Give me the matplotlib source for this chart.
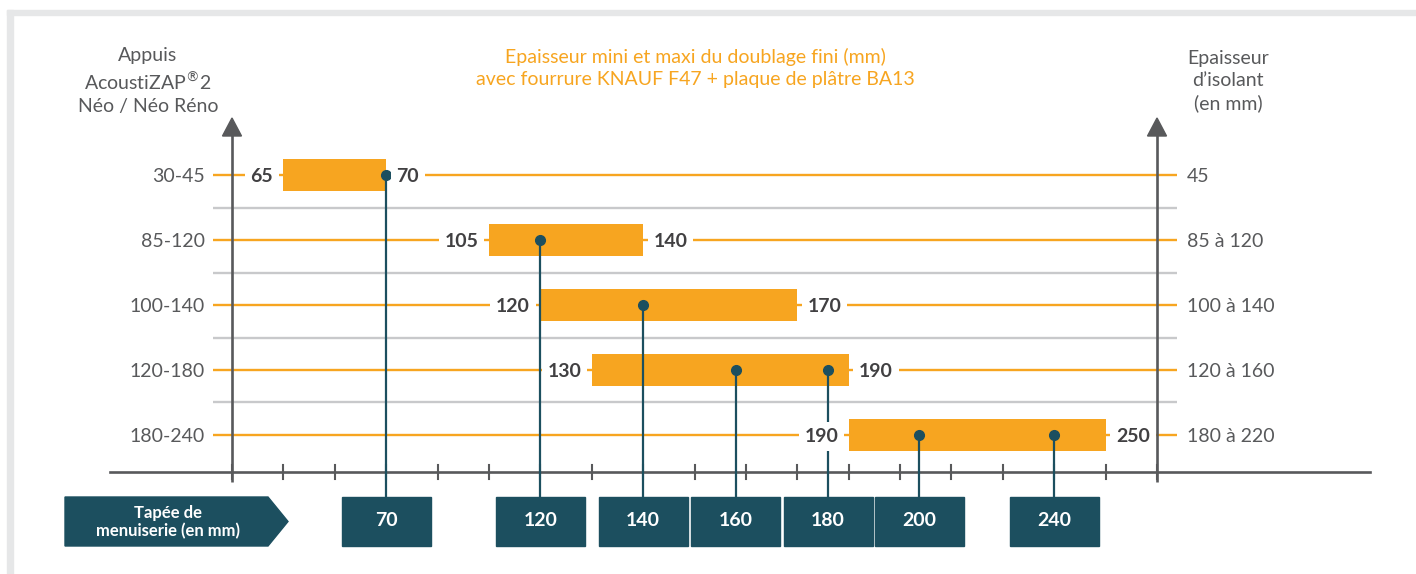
import numpy as np
import matplotlib
matplotlib.use("Agg")
import matplotlib.pyplot as plt
from matplotlib.patches import Rectangle, Polygon
from matplotlib.transforms import Affine2D, blended_transform_factory

plt.rcParams['font.family'] = ['Lato', 'DejaVu Sans']

# données du schéma
appuis = ["30-45", "85-120", "100-140", "120-180", "180-240"]
isolant = ["45", "85 à 120", "100 à 140", "120 à 160", "180 à 220"]
doublage_mini = [65, 105, 120, 130, 190]
doublage_maxi = [70, 140, 170, 190, 250]
tapee = [70, 120, 140, 160, 180, 200, 240]
tapee_rang = [0, 1, 2, 3, 3, 4, 4]   # rangée d'où part chaque tige

# l'axe horizontal du schéma n'est pas linéaire : mm -> graduation
ancre_mm = [-100, 50, 65, 70, 105, 120, 130, 140, 160, 170, 180, 190, 200, 240, 250, 270, 420]
ancre_grad = [-15, 0, 1, 3, 5, 6, 7, 8, 9.8, 11, 11.6, 12, 13.37, 16, 17, 18, 33]


def vers_grad(x):
    return np.interp(x, ancre_mm, ancre_grad)


def vers_mm(g):
    return np.interp(g, ancre_grad, ancre_mm)


orange = '#f7a520'
bleu = '#1c4f5f'
gris = '#58595b'
gris_clair = '#c8c9cb'
chiffres = '#414042'

W, H = 1416, 574
X0, PAS = 232, 51.39      # pixel de la graduation 0, pixels par graduation
Y0, LIGNE = 175, 65       # pixel de la 1re rangée, pixels par rangée

fig = plt.figure(figsize=(W / 100, H / 100), dpi=100)
ax = fig.add_axes([0, 0, 1, 1])
ax.set_xscale('function', functions=(vers_grad, vers_mm))
ax.set_xlim(vers_mm(-X0 / PAS), vers_mm((W - X0) / PAS))
ax.set_ylim((H - Y0) / LIGNE, -Y0 / LIGNE)
ax.axis('off')

px = Affine2D().scale(1 / W, -1 / H).translate(0, 1) + fig.transFigure
x_mm_y_px = blended_transform_factory(ax.transData, px)
x_px_y_rang = blended_transform_factory(px, ax.transData)


def rang(y_pixel):
    return (y_pixel - Y0) / LIGNE


# cadre gris
ax.add_patch(Rectangle((7, 10), W - 7, 5, transform=px, color='#e6e7e8', clip_on=False))
ax.add_patch(Rectangle((7, 10), 6, H - 10, transform=px, color='#e6e7e8', clip_on=False))

rangs = np.arange(len(appuis))
xa, xb = vers_mm(-0.37), vers_mm(18.39)
ax.hlines(rangs[:-1] + 0.5, xa, xb, color=gris_clair, lw=1.7, zorder=1)
ax.hlines(rangs, xa, xb, color=orange, lw=1.7, zorder=1.5)

# barres mini / maxi
ax.barh(rangs, np.subtract(doublage_maxi, doublage_mini), left=doublage_mini,
        height=0.5, color=orange, zorder=2)

style = dict(textcoords='offset points', va='center', fontsize=14, fontweight='bold',
             color=chiffres, zorder=4,
             bbox=dict(boxstyle='square,pad=0.3', fc='white', ec='none'))
for r, (a, b) in enumerate(zip(doublage_mini, doublage_maxi)):
    ax.annotate(str(a), (a, r), xytext=(-7.5, -1), ha='right', **style)
    ax.annotate(str(b), (b, r), xytext=(7.5, -1), ha='left', **style)

# axes verticaux avec flèches
for g in (0, 18):
    x = vers_mm(g)
    ax.plot([x, x], [134, 482], transform=x_mm_y_px, color=gris, lw=1.9,
            solid_capstyle='butt', zorder=2.5)
    tri = [(x, 118), (vers_mm(g - 9.5 / PAS), 136), (vers_mm(g + 9.5 / PAS), 136)]
    ax.add_patch(Polygon(tri, closed=True, transform=x_mm_y_px, color=gris, zorder=2.5))

# ligne de base et graduations
ax.plot([110, 1370], [472, 472], transform=px, color=gris, lw=1.9, zorder=2.5)
for g in range(19):
    x = vers_mm(g)
    ax.plot([x, x], [465, 479], transform=x_mm_y_px, color=gris, lw=1.5, zorder=2.5)

# tiges et cases de tapée
bas = rang(497)
for t, r in zip(tapee, tapee_rang):
    ax.plot([t, t], [r, bas], color=bleu, lw=1.6, zorder=3)
    ax.plot(t, r, 'o', ms=7, color=bleu, zorder=3.5)
    cx = ax.transData.transform((t, 0))[0]
    ax.add_patch(Rectangle((cx - 44.5, 497), 89, 49, transform=px, color=bleu, zorder=3))
    ax.text(cx, 521, str(t), transform=px, ha='center', va='center', fontsize=14,
            fontweight='bold', color='white', zorder=4)

ax.add_patch(Polygon([(65, 497), (268, 497), (288, 521.5), (268, 546), (65, 546)],
                     closed=True, transform=px, color=bleu))
ax.text(168, 522, "Tapée de\nmenuiserie (en mm)", transform=px, ha='center', va='center',
        fontsize=12, fontweight='bold', color='white', linespacing=1.1)

# étiquettes des rangées
for r in rangs:
    ax.text(205, r + 0.02, appuis[r], transform=x_px_y_rang, ha='right', va='center',
            fontsize=14, color=gris)
    ax.text(1187, r + 0.02, isolant[r], transform=x_px_y_rang, ha='left', va='center',
            fontsize=14, color=gris)

# titres
ax.text(148, 81, "Appuis\nAcoustiZAP$^{\\circledR}$2\nNéo / Néo Réno", transform=px,
        ha='center', va='center', fontsize=14, color=gris, linespacing=1.35)
ax.text(1228, 81, "Epaisseur\nd’isolant\n(en mm)", transform=px, ha='center',
        va='center', fontsize=14, color=gris, linespacing=1.35)
ax.text(695, 68, "Epaisseur mini et maxi du doublage fini (mm)\n"
        "avec fourrure KNAUF F47 + plaque de plâtre BA13", transform=px, ha='center',
        va='center', fontsize=14, color=orange, linespacing=1.35)

fig.savefig('out.png', dpi=100)
